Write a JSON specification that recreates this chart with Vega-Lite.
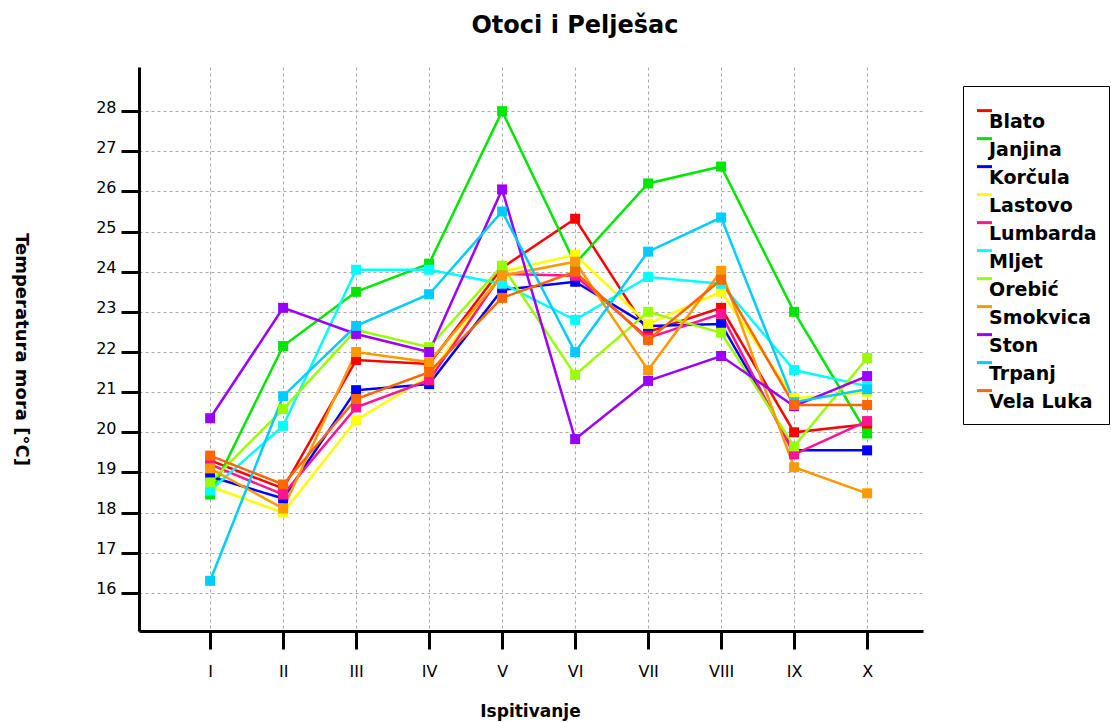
{
  "$schema": "https://vega.github.io/schema/vega-lite/v6.json",
  "width": 784,
  "height": 564,
  "autosize": {"type": "none"},
  "padding": {"left": 139, "top": 67, "right": 188, "bottom": 91},
  "background": "white",
  "title": {
    "text": "Otoci i Pelješac",
    "font": "DejaVu Sans",
    "fontSize": 24,
    "fontWeight": "bold",
    "color": "black",
    "anchor": "middle",
    "frame": "group",
    "dx": 44,
    "baseline": "middle",
    "offset": 17
  },
  "config": {
    "view": {"stroke": null},
    "axis": {
      "labelFont": "DejaVu Sans",
      "labelFontSize": 16,
      "labelColor": "black",
      "titleFont": "DejaVu Sans",
      "titleFontSize": 17,
      "titleFontWeight": "bold",
      "titleColor": "black",
      "domainColor": "black",
      "domainWidth": 3,
      "tickColor": "black",
      "tickWidth": 3,
      "tickSize": 18,
      "grid": true,
      "gridColor": "#a8a8a8",
      "gridDash": [3, 3],
      "gridWidth": 1
    }
  },
  "data": {
    "values": [
      {"mjesto": "Blato", "ispitivanje": "I", "temp": 19.3},
      {"mjesto": "Blato", "ispitivanje": "II", "temp": 18.6},
      {"mjesto": "Blato", "ispitivanje": "III", "temp": 21.8},
      {"mjesto": "Blato", "ispitivanje": "IV", "temp": 21.7},
      {"mjesto": "Blato", "ispitivanje": "V", "temp": 24.1},
      {"mjesto": "Blato", "ispitivanje": "VI", "temp": 25.32},
      {"mjesto": "Blato", "ispitivanje": "VII", "temp": 22.5},
      {"mjesto": "Blato", "ispitivanje": "VIII", "temp": 23.1},
      {"mjesto": "Blato", "ispitivanje": "IX", "temp": 20.0},
      {"mjesto": "Blato", "ispitivanje": "X", "temp": 20.2},
      {"mjesto": "Janjina", "ispitivanje": "I", "temp": 18.45},
      {"mjesto": "Janjina", "ispitivanje": "II", "temp": 22.15},
      {"mjesto": "Janjina", "ispitivanje": "III", "temp": 23.5},
      {"mjesto": "Janjina", "ispitivanje": "IV", "temp": 24.2},
      {"mjesto": "Janjina", "ispitivanje": "V", "temp": 28.0},
      {"mjesto": "Janjina", "ispitivanje": "VI", "temp": 24.2},
      {"mjesto": "Janjina", "ispitivanje": "VII", "temp": 26.2},
      {"mjesto": "Janjina", "ispitivanje": "VIII", "temp": 26.62},
      {"mjesto": "Janjina", "ispitivanje": "IX", "temp": 23.0},
      {"mjesto": "Janjina", "ispitivanje": "X", "temp": 19.97},
      {"mjesto": "Korčula", "ispitivanje": "I", "temp": 18.9},
      {"mjesto": "Korčula", "ispitivanje": "II", "temp": 18.35},
      {"mjesto": "Korčula", "ispitivanje": "III", "temp": 21.05},
      {"mjesto": "Korčula", "ispitivanje": "IV", "temp": 21.2},
      {"mjesto": "Korčula", "ispitivanje": "V", "temp": 23.55},
      {"mjesto": "Korčula", "ispitivanje": "VI", "temp": 23.75},
      {"mjesto": "Korčula", "ispitivanje": "VII", "temp": 22.65},
      {"mjesto": "Korčula", "ispitivanje": "VIII", "temp": 22.7},
      {"mjesto": "Korčula", "ispitivanje": "IX", "temp": 19.55},
      {"mjesto": "Korčula", "ispitivanje": "X", "temp": 19.55},
      {"mjesto": "Lastovo", "ispitivanje": "I", "temp": 18.65},
      {"mjesto": "Lastovo", "ispitivanje": "II", "temp": 18.0},
      {"mjesto": "Lastovo", "ispitivanje": "III", "temp": 20.3},
      {"mjesto": "Lastovo", "ispitivanje": "IV", "temp": 21.4},
      {"mjesto": "Lastovo", "ispitivanje": "V", "temp": 24.0},
      {"mjesto": "Lastovo", "ispitivanje": "VI", "temp": 24.42},
      {"mjesto": "Lastovo", "ispitivanje": "VII", "temp": 22.7},
      {"mjesto": "Lastovo", "ispitivanje": "VIII", "temp": 23.5},
      {"mjesto": "Lastovo", "ispitivanje": "IX", "temp": 20.85},
      {"mjesto": "Lastovo", "ispitivanje": "X", "temp": 21.0},
      {"mjesto": "Lumbarda", "ispitivanje": "I", "temp": 19.2},
      {"mjesto": "Lumbarda", "ispitivanje": "II", "temp": 18.45},
      {"mjesto": "Lumbarda", "ispitivanje": "III", "temp": 20.62},
      {"mjesto": "Lumbarda", "ispitivanje": "IV", "temp": 21.3},
      {"mjesto": "Lumbarda", "ispitivanje": "V", "temp": 23.95},
      {"mjesto": "Lumbarda", "ispitivanje": "VI", "temp": 23.9},
      {"mjesto": "Lumbarda", "ispitivanje": "VII", "temp": 22.35},
      {"mjesto": "Lumbarda", "ispitivanje": "VIII", "temp": 22.95},
      {"mjesto": "Lumbarda", "ispitivanje": "IX", "temp": 19.45},
      {"mjesto": "Lumbarda", "ispitivanje": "X", "temp": 20.28},
      {"mjesto": "Mljet", "ispitivanje": "I", "temp": 18.55},
      {"mjesto": "Mljet", "ispitivanje": "II", "temp": 20.16},
      {"mjesto": "Mljet", "ispitivanje": "III", "temp": 24.05},
      {"mjesto": "Mljet", "ispitivanje": "IV", "temp": 24.05},
      {"mjesto": "Mljet", "ispitivanje": "V", "temp": 23.7},
      {"mjesto": "Mljet", "ispitivanje": "VI", "temp": 22.8},
      {"mjesto": "Mljet", "ispitivanje": "VII", "temp": 23.87},
      {"mjesto": "Mljet", "ispitivanje": "VIII", "temp": 23.7},
      {"mjesto": "Mljet", "ispitivanje": "IX", "temp": 21.55},
      {"mjesto": "Mljet", "ispitivanje": "X", "temp": 21.15},
      {"mjesto": "Orebić", "ispitivanje": "I", "temp": 18.75},
      {"mjesto": "Orebić", "ispitivanje": "II", "temp": 20.58},
      {"mjesto": "Orebić", "ispitivanje": "III", "temp": 22.55},
      {"mjesto": "Orebić", "ispitivanje": "IV", "temp": 22.12},
      {"mjesto": "Orebić", "ispitivanje": "V", "temp": 24.15},
      {"mjesto": "Orebić", "ispitivanje": "VI", "temp": 21.43},
      {"mjesto": "Orebić", "ispitivanje": "VII", "temp": 23.0},
      {"mjesto": "Orebić", "ispitivanje": "VIII", "temp": 22.48},
      {"mjesto": "Orebić", "ispitivanje": "IX", "temp": 19.65},
      {"mjesto": "Orebić", "ispitivanje": "X", "temp": 21.85},
      {"mjesto": "Smokvica", "ispitivanje": "I", "temp": 19.1},
      {"mjesto": "Smokvica", "ispitivanje": "II", "temp": 18.1},
      {"mjesto": "Smokvica", "ispitivanje": "III", "temp": 22.0},
      {"mjesto": "Smokvica", "ispitivanje": "IV", "temp": 21.75},
      {"mjesto": "Smokvica", "ispitivanje": "V", "temp": 23.9},
      {"mjesto": "Smokvica", "ispitivanje": "VI", "temp": 24.25},
      {"mjesto": "Smokvica", "ispitivanje": "VII", "temp": 21.55},
      {"mjesto": "Smokvica", "ispitivanje": "VIII", "temp": 24.02},
      {"mjesto": "Smokvica", "ispitivanje": "IX", "temp": 19.13},
      {"mjesto": "Smokvica", "ispitivanje": "X", "temp": 18.48},
      {"mjesto": "Ston", "ispitivanje": "I", "temp": 20.35},
      {"mjesto": "Ston", "ispitivanje": "II", "temp": 23.1},
      {"mjesto": "Ston", "ispitivanje": "III", "temp": 22.45},
      {"mjesto": "Ston", "ispitivanje": "IV", "temp": 22.0},
      {"mjesto": "Ston", "ispitivanje": "V", "temp": 26.05},
      {"mjesto": "Ston", "ispitivanje": "VI", "temp": 19.83},
      {"mjesto": "Ston", "ispitivanje": "VII", "temp": 21.28},
      {"mjesto": "Ston", "ispitivanje": "VIII", "temp": 21.9},
      {"mjesto": "Ston", "ispitivanje": "IX", "temp": 20.65},
      {"mjesto": "Ston", "ispitivanje": "X", "temp": 21.4},
      {"mjesto": "Trpanj", "ispitivanje": "I", "temp": 16.3},
      {"mjesto": "Trpanj", "ispitivanje": "II", "temp": 20.9},
      {"mjesto": "Trpanj", "ispitivanje": "III", "temp": 22.65},
      {"mjesto": "Trpanj", "ispitivanje": "IV", "temp": 23.44},
      {"mjesto": "Trpanj", "ispitivanje": "V", "temp": 25.5},
      {"mjesto": "Trpanj", "ispitivanje": "VI", "temp": 22.0},
      {"mjesto": "Trpanj", "ispitivanje": "VII", "temp": 24.5},
      {"mjesto": "Trpanj", "ispitivanje": "VIII", "temp": 25.35},
      {"mjesto": "Trpanj", "ispitivanje": "IX", "temp": 20.75},
      {"mjesto": "Trpanj", "ispitivanje": "X", "temp": 21.07},
      {"mjesto": "Vela Luka", "ispitivanje": "I", "temp": 19.42},
      {"mjesto": "Vela Luka", "ispitivanje": "II", "temp": 18.7},
      {"mjesto": "Vela Luka", "ispitivanje": "III", "temp": 20.83},
      {"mjesto": "Vela Luka", "ispitivanje": "IV", "temp": 21.5},
      {"mjesto": "Vela Luka", "ispitivanje": "V", "temp": 23.35},
      {"mjesto": "Vela Luka", "ispitivanje": "VI", "temp": 24.0},
      {"mjesto": "Vela Luka", "ispitivanje": "VII", "temp": 22.3},
      {"mjesto": "Vela Luka", "ispitivanje": "VIII", "temp": 23.8},
      {"mjesto": "Vela Luka", "ispitivanje": "IX", "temp": 20.68},
      {"mjesto": "Vela Luka", "ispitivanje": "X", "temp": 20.68}
    ]
  },
  "encoding": {
    "x": {
      "field": "ispitivanje",
      "type": "ordinal",
      "sort": ["I", "II", "III", "IV", "V", "VI", "VII", "VIII", "IX", "X"],
      "scale": {"type": "point", "padding": 0.87, "align": 0.56},
      "axis": {
        "title": "Ispitivanje",
        "labelAngle": 0,
        "labelPadding": 14,
        "titleX": 391,
        "titleY": 80,
        "titleAlign": "center",
        "titleBaseline": "middle"
      }
    },
    "y": {
      "field": "temp",
      "type": "quantitative",
      "scale": {"domain": [15.05, 29.1], "nice": false, "zero": false},
      "axis": {
        "title": "Temperatura mora [°C]",
        "titleFontSize": 18,
        "values": [16, 17, 18, 19, 20, 21, 22, 23, 24, 25, 26, 27, 28],
        "labelPadding": 5,
        "labelOffset": -4,
        "titleAngle": 90,
        "titleX": -119,
        "titleY": 282,
        "titleAlign": "center",
        "titleBaseline": "middle"
      }
    },
    "color": {
      "field": "mjesto",
      "type": "nominal",
      "scale": {
        "domain": ["Blato", "Janjina", "Korčula", "Lastovo", "Lumbarda", "Mljet", "Orebić", "Smokvica", "Ston", "Trpanj", "Vela Luka"],
        "range": ["#ff0000", "#00e600", "#0000ff", "#ffff00", "#ff1493", "#00ffff", "#99ff00", "#ff9900", "#9900ff", "#00ccff", "#ff6600"]
      },
      "legend": {
        "title": " ",
        "titleFontSize": 11,
        "titlePadding": 3,
        "orient": "none",
        "legendX": 824,
        "legendY": 19,
        "strokeColor": "black",
        "fillColor": "white",
        "padding": 12,
        "labelFont": "DejaVu Sans",
        "labelFontSize": 19,
        "labelFontWeight": "bold",
        "labelColor": "black",
        "labelOffset": -5,
        "rowPadding": 0,
        "symbolType": "M-1,-1.45L1,-1.45",
        "symbolSize": 225,
        "symbolStrokeWidth": 3
      }
    }
  },
  "layer": [
    {"mark": {"type": "line", "strokeWidth": 2.5}},
    {"mark": {"type": "point", "shape": "square", "filled": true, "size": 100, "opacity": 1}}
  ]
}
